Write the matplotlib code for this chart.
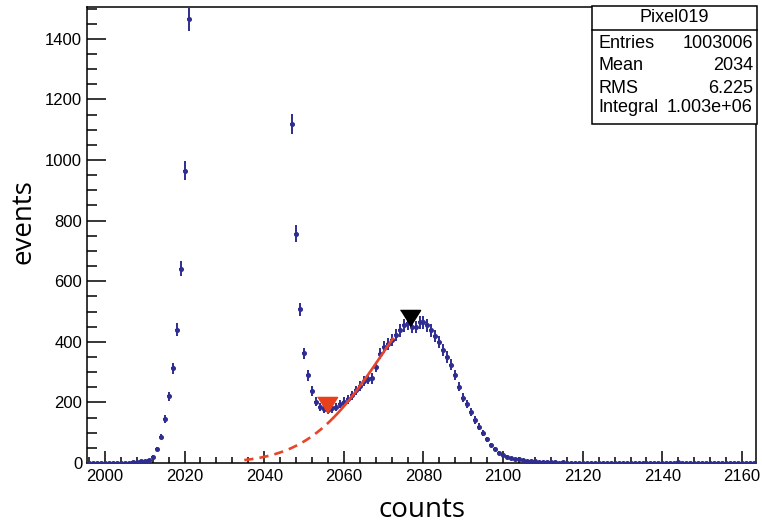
import numpy as np
import matplotlib.pyplot as plt
from matplotlib.patches import Rectangle
from matplotlib.ticker import MultipleLocator

plt.rcParams['font.family'] = ['Liberation Sans', 'DejaVu Sans']

# histogram: 168 bins of width 1, centred on 1996 ... 2163
first_bin = 1996
counts = (
    [0, 1, 0, 1, 0, 0, 1, 1, 0, 1]
    + [1, 2, 3, 5, 7, 10, 21, 45, 87, 145, 221, 312, 440, 641, 965, 1465]
    # pedestal, off scale
    + [2100, 4400, 8600, 15500, 25600, 38800, 53500, 67400, 77800, 83600,
       85600, 84400, 80900, 74000, 63700, 51500, 39100, 27900, 18600, 11700,
       7000, 4000, 2900, 2300, 1750]
    + [1119, 757, 507, 362, 289, 238, 202, 185, 178, 175,
       180, 185, 194, 202, 210, 224, 240, 255, 270]
    + [276, 279, 317, 361, 383, 394, 405, 422, 438, 455, 462, 450, 449,
       465, 465, 455, 438, 420, 398, 372, 350, 325, 290, 252, 216, 194]
    + [169, 142, 120, 98, 78, 59, 45, 34, 26, 21, 17, 14, 12, 10]
    + [8, 6, 5, 4, 3, 3, 2, 2, 1, 2, 1, 1, 1, 0, 1, 1, 0, 1, 0, 0,
       1, 0, 1, 0, 0, 0, 1, 0, 0, 1, 0, 0, 0, 1, 0, 1, 1, 0, 2, 1,
       1, 0, 1, 1, 1, 0, 0, 1, 0, 0, 0, 0, 1, 0, 0, 0, 0, 0]
)
counts = np.array(counts, dtype=float)
centers = first_bin + np.arange(len(counts))

# gaussian fit parameters (amplitude, mean, sigma) and ranges
fit_amp, fit_mean, fit_sigma = 588.0, 2088.0, 18.5
fit_range = (2057.5, 2072.3)
ext_range = (2035.0, 2057.5)

# markers: valley (red) and peak (black)
valley_x, valley_y = 2055.8, 191
peak_x, peak_y = 2076.7, 477

stats_title = "Pixel019"
stats_rows = [("Entries", "1003006"), ("Mean", "2034"), ("RMS", "6.225"),
              ("Integral", "1.003e+06")]

fig = plt.figure(figsize=(7.62, 5.23), dpi=100)
ax = fig.add_axes([87 / 762, 1 - 463 / 523, 669 / 762, 456 / 523])

blue = '#2f2c92'
ax.errorbar(centers, counts, yerr=np.sqrt(counts), xerr=0.5, fmt='o',
            ms=2.6, color=blue, ecolor=blue, elinewidth=1.4, capsize=0,
            zorder=3)

def gaus(x):
    return fit_amp * np.exp(-0.5 * ((x - fit_mean) / fit_sigma) ** 2)

xe = np.linspace(*ext_range, 100)
xf = np.linspace(*fit_range, 60)
ax.plot(xe, gaus(xe), color='#e8442a', lw=1.9, dashes=(3.5, 2.3), zorder=4)
ax.plot(xf, gaus(xf), color='#e8442a', lw=1.9, zorder=4)

tri = [(-1, 0.8), (1, 0.8), (0, -0.8)]
ax.plot(valley_x, valley_y, marker=tri, ms=14.5, color='#e8401c',
        mec='#e8401c', zorder=5)
ax.plot(peak_x, peak_y, marker=tri, ms=14.5, color='black', zorder=5)

ax.set_xlim(1995.5, 2163.5)
ax.set_ylim(0, 1505)
ax.xaxis.set_major_locator(MultipleLocator(20))
ax.xaxis.set_minor_locator(MultipleLocator(4))
ax.yaxis.set_major_locator(MultipleLocator(200))
ax.yaxis.set_minor_locator(MultipleLocator(50))
ax.tick_params(axis='both', which='both', direction='in', width=1.1,
               labelsize=12, top=False, right=False)
ax.tick_params(axis='y', which='major', length=14, pad=3.5)
ax.tick_params(axis='y', which='minor', length=7)
ax.tick_params(axis='x', which='major', length=9, pad=4)
ax.tick_params(axis='x', which='minor', length=4.5)
for s in ax.spines.values():
    s.set_linewidth(1.1)

ax.set_xlabel("counts", fontsize=20, family='Open Sans')
ax.set_ylabel("events", fontsize=20, family='Open Sans')
ax.xaxis.set_label_coords(0.5, -0.072)
ax.yaxis.set_label_coords(-0.074, 0.53)

# stats box
bx0, bx1 = 592 / 762, 757 / 762
by0, by1, bsep = 1 - 124 / 523, 1 - 6 / 523, 1 - 30 / 523
fig.patches.append(Rectangle((bx0, by0), bx1 - bx0, by1 - by0,
                             transform=fig.transFigure, fc='white',
                             ec='black', lw=1.1, zorder=10))
fig.add_artist(plt.Line2D([bx0, bx1], [bsep, bsep], color='black', lw=1.1,
                          transform=fig.transFigure, zorder=11))
fig.text((bx0 + bx1) / 2, 1 - 18 / 523, stats_title, ha='center',
         va='center', fontsize=13, zorder=12)
row_y = [43, 66, 88, 108]
for (k, v), yy in zip(stats_rows, row_y):
    fig.text(598 / 762, 1 - yy / 523, k, ha='left', va='center',
             fontsize=13, zorder=12)
    fig.text(753 / 762, 1 - yy / 523, v, ha='right', va='center',
             fontsize=13, zorder=12)

fig.savefig("out.png", dpi=100)
